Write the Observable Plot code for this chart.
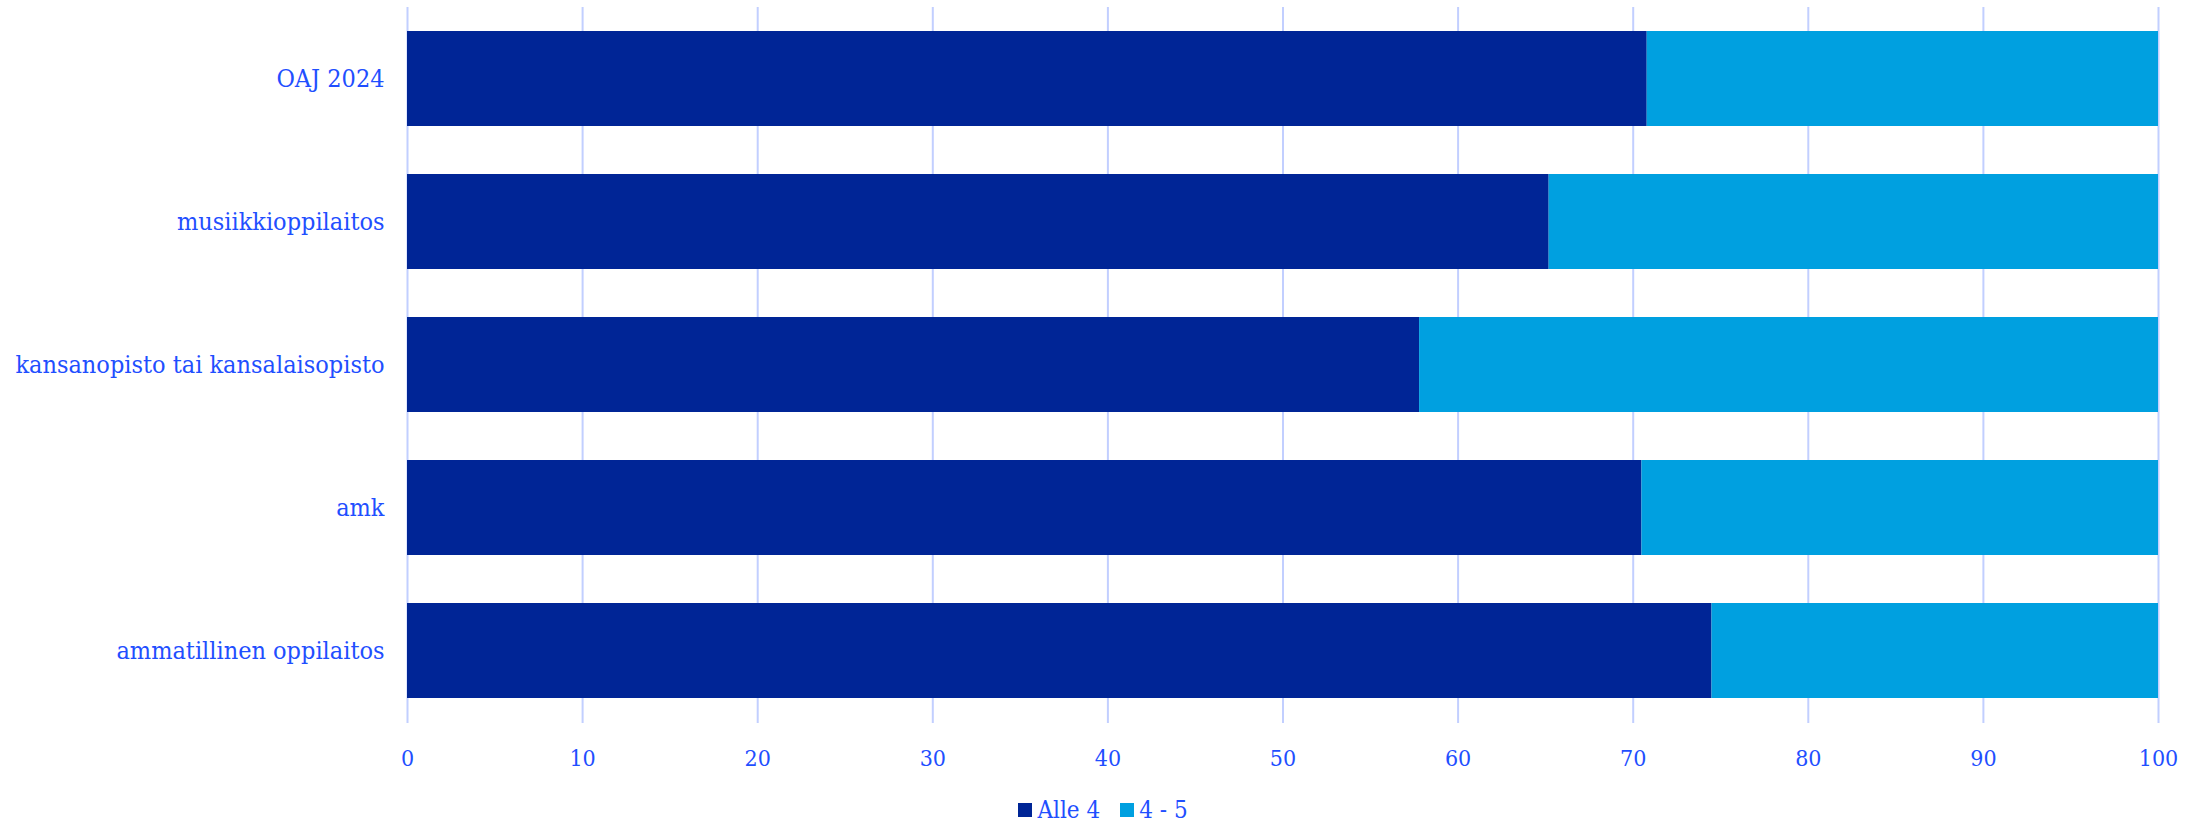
<!DOCTYPE html>
<html>
<head>
<meta charset="utf-8">
<script src="https://cdn.jsdelivr.net/npm/d3@7"></script>
<script src="https://cdn.jsdelivr.net/npm/@observablehq/plot@0.6"></script>
<style>
  html, body { margin: 0; padding: 0; background: #fff; }
  body { width: 2206px; font-family: "DejaVu Serif Condensed", "DejaVu Serif", serif; font-stretch: condensed; color: #1f4fff; }
  #legend { display: flex; justify-content: center; align-items: center; margin-top: 18px; font-size: 24px; line-height: 24px; }
  .item { display: flex; align-items: center; margin: 0 10px; }
  .sw { width: 14px; height: 14px; margin-right: 5px; display: inline-block; }
</style>
</head>
<body>
<div id="chart"></div>
<div id="legend"></div>
<script>
const categories = ["OAJ 2024", "musiikkioppilaitos", "kansanopisto tai kansalaisopisto", "amk", "ammatillinen oppilaitos"];
const seriesNames = ["Alle 4", "4 - 5"];
const alle4 = [70.8, 65.2, 57.8, 70.5, 74.5];
const neljaViisi = [29.2, 34.8, 42.2, 29.5, 25.5];
const colors = ["#002596", "#00a0e0"];
const xTicks = [0, 10, 20, 30, 40, 50, 60, 70, 80, 90, 100];

const data = [];
categories.forEach((c, i) => {
  data.push({category: c, series: seriesNames[0], value: alle4[i]});
  data.push({category: c, series: seriesNames[1], value: neljaViisi[i]});
});

const textColor = "#1f4fff";
const plot = Plot.plot({
  width: 2206,
  height: 780,
  marginLeft: 407,
  marginRight: 48,
  marginTop: 7,
  marginBottom: 57,
  style: {fontFamily: '"DejaVu Serif Condensed", "DejaVu Serif", serif', fontStretch: "condensed", color: textColor, background: "#fff"},
  x: {domain: [0, 100], ticks: xTicks, label: null},
  y: {domain: categories, paddingInner: 0.333, paddingOuter: 0.1667, label: null},
  color: {domain: seriesNames, range: colors},
  marks: [
    Plot.gridX(xTicks, {stroke: "#c2cfff", strokeOpacity: 1, strokeWidth: 2}),
    Plot.barX(data, Plot.stackX({x: "value", y: "category", fill: "series", order: seriesNames})),
    Plot.axisX({ticks: xTicks, tickSize: 0, tickPadding: 26, fontSize: 23, label: null, fill: textColor}),
    Plot.axisY({tickSize: 0, tickPadding: 23, fontSize: 25, label: null, fill: textColor})
  ]
});
document.getElementById("chart").appendChild(plot);

const legend = document.getElementById("legend");
seriesNames.forEach((s, i) => {
  const item = document.createElement("span");
  item.className = "item";
  const sw = document.createElement("span");
  sw.className = "sw";
  sw.style.background = colors[i];
  item.appendChild(sw);
  item.appendChild(document.createTextNode(s));
  legend.appendChild(item);
});
</script>
</body>
</html>
